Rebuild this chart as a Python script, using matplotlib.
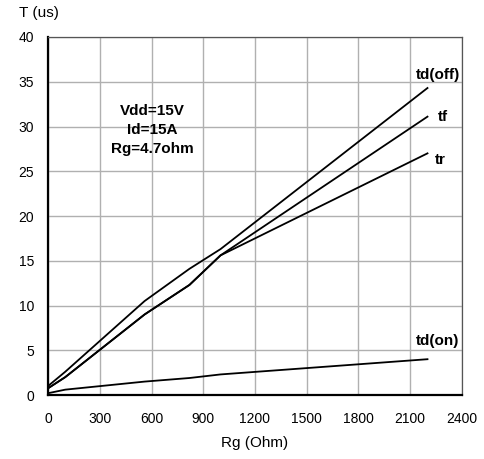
import matplotlib
matplotlib.use('Agg')
import matplotlib.pyplot as plt

plt.rcParams['font.family'] = ['Liberation Sans', 'DejaVu Sans']

# gate resistance (ohm) and switching times (us)
rg = [0, 100, 560, 820, 1000, 2200]
td_off = [1.0, 2.6, 10.5, 14.1, 16.3, 34.3]
tf = [0.75, 2.0, 9.0, 12.3, 15.6, 31.1]
tr = [0.75, 2.0, 9.0, 12.3, 15.6, 27.0]
td_on = [0.2, 0.6, 1.5, 1.9, 2.3, 4.0]

xticks = [0, 300, 600, 900, 1200, 1500, 1800, 2100, 2400]
yticks = [0, 5, 10, 15, 20, 25, 30, 35, 40]

fig = plt.figure(figsize=(4.84, 4.59), dpi=100)
ax = fig.add_axes([0.0992, 0.1394, 0.8553, 0.7800])

for y in [td_off, tf, tr, td_on]:
    ax.plot(rg, y, color='black', linewidth=1.3, zorder=3)

ax.set_xlim(0, 2400)
ax.set_ylim(0, 40)
ax.set_xticks(xticks)
ax.set_yticks(yticks)
ax.tick_params(length=0, labelsize=10, colors='black')
ax.tick_params(axis='x', pad=12.5)
ax.tick_params(axis='y', pad=10)
ax.grid(True, color='#b0b0b0', linewidth=1.0)

ax.spines['left'].set_linewidth(1.6)
ax.spines['bottom'].set_linewidth(1.6)
ax.spines['top'].set_color('#555555')
ax.spines['right'].set_color('#555555')
ax.spines['top'].set_linewidth(0.9)
ax.spines['right'].set_linewidth(0.9)

ax.text(2388, 35.75, 'td(off)', ha='right', va='center', fontsize=11, fontweight='bold')
ax.text(2290, 31.1, 'tf', ha='center', va='center', fontsize=11, fontweight='bold')
ax.text(2272, 26.3, 'tr', ha='center', va='center', fontsize=11, fontweight='bold')
ax.text(2383, 6.0, 'td(on)', ha='right', va='center', fontsize=11, fontweight='bold')

ax.text(603, 29.6, 'Vdd=15V\nId=15A\nRg=4.7ohm', ha='center', va='center',
        fontsize=11, fontweight='bold', linespacing=1.45)

fig.text(19 / 484, 1 - 12.5 / 459, 'T (us)', ha='left', va='center', fontsize=11)
fig.text(255 / 484, 1 - 443 / 459, 'Rg (Ohm)', ha='center', va='center', fontsize=11)

fig.savefig('out.png', dpi=100)
